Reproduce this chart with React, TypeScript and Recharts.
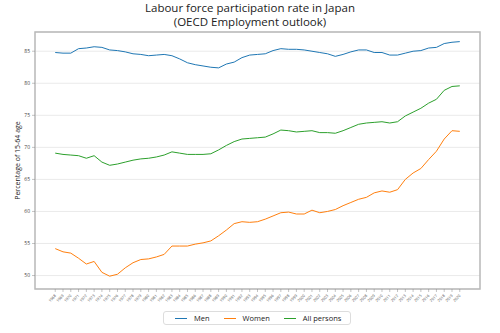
import React from 'react';
import { LineChart, Line, XAxis, YAxis, CartesianGrid, Legend, ReferenceArea } from 'recharts';

const years: number[] = [];
for (let y = 1968; y <= 2020; y++) years.push(y);

const men = [84.8, 84.7, 84.7, 85.4, 85.5, 85.7, 85.6, 85.2, 85.1, 84.9, 84.6, 84.5, 84.3, 84.4, 84.5, 84.3, 83.8, 83.2, 82.9, 82.7, 82.5, 82.4, 83.0, 83.3, 84.0, 84.4, 84.5, 84.6, 85.1, 85.4, 85.3, 85.3, 85.2, 85.0, 84.8, 84.6, 84.2, 84.5, 84.9, 85.2, 85.2, 84.8, 84.8, 84.4, 84.4, 84.7, 85.0, 85.1, 85.5, 85.6, 86.2, 86.4, 86.5];
const women = [54.2, 53.7, 53.5, 52.7, 51.8, 52.2, 50.5, 49.9, 50.2, 51.2, 52.0, 52.5, 52.6, 52.9, 53.3, 54.6, 54.6, 54.6, 54.9, 55.1, 55.4, 56.2, 57.1, 58.1, 58.4, 58.3, 58.4, 58.8, 59.3, 59.8, 59.9, 59.6, 59.6, 60.2, 59.8, 60.0, 60.3, 60.9, 61.4, 61.9, 62.2, 62.9, 63.2, 63.0, 63.4, 65.0, 66.0, 66.7, 68.1, 69.4, 71.3, 72.6, 72.5];
const allPersons = [69.1, 68.9, 68.8, 68.7, 68.3, 68.7, 67.7, 67.2, 67.4, 67.7, 68.0, 68.2, 68.3, 68.5, 68.8, 69.3, 69.1, 68.9, 68.9, 68.9, 69.0, 69.6, 70.3, 70.9, 71.3, 71.4, 71.5, 71.6, 72.1, 72.7, 72.6, 72.4, 72.5, 72.6, 72.3, 72.3, 72.2, 72.6, 73.1, 73.6, 73.8, 73.9, 74.0, 73.8, 74.0, 74.9, 75.5, 76.1, 76.9, 77.5, 78.9, 79.5, 79.6];
const yTicks = [50, 55, 60, 65, 70, 75, 80, 85];
const seriesNames = ['Men', 'Women', 'All persons'];
const colors = ['#1f77b4', '#ff7f0e', '#2ca02c'];

const data = years.map((year, i) => ({ year, men: men[i], women: women[i], all: allPersons[i] }));

const FONT = '"Open Sans", sans-serif';

const XTick = (props: any) => {
  const { x, y, payload } = props;
  return (
    <text x={x} y={y + 1} transform={`rotate(-45 ${x} ${y + 1})`} textAnchor="end" dominantBaseline="central" fontSize={3.8} fill="#444" fontFamily={FONT}>
      {payload.value}
    </text>
  );
};

const LegendContent = () => (
  <div style={{ display: 'flex', alignItems: 'center', border: '1px solid #ddd', borderRadius: 3, padding: '0 9px 0 11px', background: '#fff', fontFamily: FONT, fontSize: 7.5, color: '#222', height: 14, boxSizing: 'border-box' }}>
    {seriesNames.map((n, i) => (
      <div key={n} style={{ display: 'flex', alignItems: 'center', marginRight: i < 2 ? 14 : 0 }}>
        <div style={{ width: 12, height: 1, background: colors[i], marginRight: 7 }} />
        <span>{n}</span>
      </div>
    ))}
  </div>
);

export default function App() {
  return (
    <div style={{ position: 'absolute', left: 0, top: 0, width: 500, height: 333, background: '#fff' }}>
      <div style={{ position: 'absolute', left: 0, top: 1, width: 500, textAlign: 'center', fontFamily: FONT, fontSize: 11.5, lineHeight: '14px', color: '#222' }}>
        <div>Labour force participation rate in Japan</div>
        <div>(OECD Employment outlook)</div>
      </div>
      <LineChart width={500} height={333} data={data} margin={{ top: 32, right: 20, left: 0, bottom: 0 }}>
        <CartesianGrid vertical={false} stroke="#e4e4e4" strokeWidth={0.8} />
        <XAxis dataKey="year" type="number" domain={[1965.4, 2022.6]} ticks={years} interval={0} tick={<XTick />} tickSize={3} tickLine={{ stroke: '#888', strokeWidth: 0.5 }} axisLine={false} height={30} allowDataOverflow />
        <YAxis type="number" domain={[47.9, 88.0]} ticks={yTicks} allowDataOverflow width={35} tickSize={3} tickMargin={2} tickLine={{ stroke: '#888', strokeWidth: 0.5 }} axisLine={false} tick={{ fontSize: 5, fill: '#444', fontFamily: FONT }}
          label={{ value: 'Percentage of 15-64 age', angle: -90, position: 'insideLeft', offset: 18, style: { fontSize: 7, fill: '#222', fontFamily: FONT, textAnchor: 'middle' } }} />
        <ReferenceArea x1={1965.4} x2={2022.6} y1={47.9} y2={88.0} fill="none" stroke="#b8b8b8" strokeWidth={1.5} ifOverflow="visible" />
        <Line dataKey="men" name="Men" stroke={colors[0]} strokeWidth={1} dot={false} isAnimationActive={false} />
        <Line dataKey="women" name="Women" stroke={colors[1]} strokeWidth={1} dot={false} isAnimationActive={false} />
        <Line dataKey="all" name="All persons" stroke={colors[2]} strokeWidth={1} dot={false} isAnimationActive={false} />
        <Legend content={<LegendContent />} wrapperStyle={{ position: 'absolute', left: 163, top: 311, width: 'auto' }} />
      </LineChart>
    </div>
  );
}
